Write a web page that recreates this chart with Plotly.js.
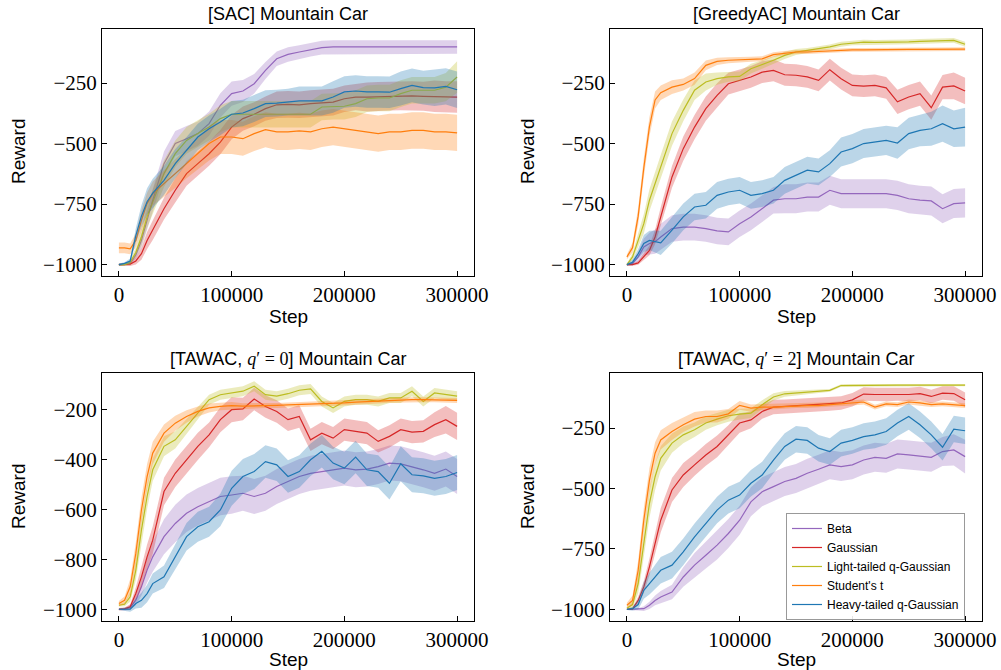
<!DOCTYPE html>
<html>
<head>
<meta charset="utf-8">
<script src="https://cdn.plot.ly/plotly-3.0.1.min.js"></script>
<style>html,body{margin:0;padding:0;background:#fff;}#chart{width:1001px;height:670px;}</style>
</head>
<body>
<div id="chart"></div>
<script>
// ---------- data ----------
const steps = [0,5000,10000,15000,20000,25000,30000,40000,50000,60000,70000,80000,90000,100000,110000,120000,130000,140000,150000,160000,170000,180000,190000,200000,210000,220000,230000,240000,250000,260000,270000,280000,290000,300000];
const seriesNames = ["Beta","Gaussian","Light-tailed q-Gaussian","Student's t","Heavy-tailed q-Gaussian"];
const panelTitles = ["[SAC] Mountain Car","[GreedyAC] Mountain Car",
  "[TAWAC, <span style='font-family:Liberation Serif'><i>q</i>′ = 0</span>] Mountain Car",
  "[TAWAC, <span style='font-family:Liberation Serif'><i>q</i>′ = 2</span>] Mountain Car"];
const xTicks = [0,100000,200000,300000];
const yTicksA = [-1000,-750,-500,-250];
const yTicksB = [-1000,-800,-600,-400,-200];

// SAC
const sacBeta  = [-1000,-1000,-995,-960,-900,-817,-734, -583,-500,-480,-459,-418,-342,-294, -283,-253,-198,-150,-132,-122,-113, -104,-101,-101,-101,-101,-101,-101, -101,-101,-101,-101,-101,-101];
const sacBetaSd= [5,5,8,15,30,40,45, 50,52,52,50,50,50,50, 45,40,35,30,30,28,28, 28,28,28,28,28,28,28, 28,28,28,28,28,28];
const sacGauss = [-1000,-1000,-998,-985,-955,-900,-858, -769,-693,-624,-583,-542,-494,-432, -397,-379,-356,-340,-338,-340,-335, -333,-329,-315,-308,-308,-306,-304, -303,-303,-305,-305,-308,-308];
const sacGaussSd=[5,5,8,15,25,35,40, 45,50,50,50,50,50,50, 50,50,50,55,55,55,55, 55,55,55,55,60,60,60, 60,60,60,65,65,65];
const sacLight = [-1000,-1000,-990,-950,-886,-803,-741, -624,-542,-487,-459,-432,-397,-379, -379,-379,-379,-379,-379,-379,-379, -349,-346,-346,-335,-315,-312,-312, -294,-280,-280,-280,-267,-225];
const sacLightSd=[5,5,10,20,35,45,50, 55,55,55,55,55,55,55, 55,55,55,55,55,55,55, 55,55,55,55,55,55,55, 55,55,55,55,58,65];
const sacStud  = [-931,-931,-935,-900,-817,-748,-707, -666,-624,-583,-542,-500,-473,-473, -480,-459,-443,-452,-452,-448,-452, -439,-432,-439,-448,-452,-459,-452, -452,-446,-446,-452,-452,-456];
const sacStudSd= [22,22,22,28,40,45,50, 55,60,60,65,70,70,70, 70,72,72,75,75,75,75, 75,75,75,75,75,75,75, 75,75,75,75,75,75];
const sacHeavy = [-1000,-995,-985,-880,-800,-740,-705, -652,-583,-528,-473,-439,-411,-379, -374,-356,-335,-333,-329,-324,-324, -324,-308,-287,-283,-287,-287,-288, -273,-260,-269,-270,-264,-278];
const sacHeavySd=[5,5,10,30,45,55,60, 60,60,55,55,55,55,55, 55,55,55,55,55,60,60, 60,65,65,65,65,65,65, 70,70,70,75,75,75];

// GreedyAC
const gBeta  = [-1000,-995,-968,-927,-913,-905,-886, -851,-845,-845,-851,-861,-865,-831, -803,-769,-734,-728,-728,-721,-721, -693,-707,-707,-707,-707,-707,-714, -728,-734,-737,-769,-748,-745];
const gBetaSd= [5,8,20,35,45,50,55, 55,55,55,55,55,55,55, 55,55,55,60,60,60,60, 60,60,60,60,60,60,60, 60,60,60,60,60,60];
const gGauss = [-1000,-1000,-993,-968,-941,-886,-803, -638,-521,-432,-356,-301,-253,-239, -225,-205,-198,-216,-218,-225,-239, -195,-232,-260,-263,-260,-270,-328, -308,-294,-352,-267,-262,-283];
const gGaussSd=[5,5,8,15,20,30,40, 45,50,50,50,50,45,45, 45,45,45,45,45,45,45, 45,45,45,45,45,45,50, 50,50,50,50,55,55];
const gLight = [-1000,-968,-900,-831,-734,-666,-597, -459,-363,-280,-246,-232,-225,-223, -191,-174,-156,-136,-122,-115,-108, -101,-90,-84,-81,-82,-82,-81, -80,-78,-77,-76,-74,-90];
const gLightSd=[5,15,30,40,45,50,50, 50,45,40,35,25,20,20, 20,18,15,15,12,10,10, 10,10,10,10,10,10,10, 10,10,10,10,10,10];
const gStud  = [-968,-930,-800,-600,-430,-320,-290, -267,-256,-232,-177,-161,-156,-154, -152,-150,-133,-126,-122,-122,-119, -118,-115,-113,-113,-112,-112,-112, -111,-111,-111,-110,-110,-110];
const gStudSd= [10,20,35,40,40,35,30, 28,25,25,20,15,12,10, 10,10,10,8,8,8,8, 8,8,8,8,8,8,8, 8,8,8,8,8,8];
const gHeavy = [-1000,-990,-955,-913,-900,-905,-910, -858,-803,-762,-755,-714,-700,-693, -714,-707,-693,-652,-631,-610,-617, -583,-535,-521,-500,-494,-487,-498, -459,-446,-439,-418,-439,-432];
const gHeavySd=[5,10,20,35,40,45,50, 55,55,55,55,55,55,55, 55,55,55,55,55,55,55, 55,60,60,60,60,60,65, 65,65,70,75,75,80];

// TAWAC q'=0
const t0Beta  = [-1000,-1000,-993,-964,-910,-843,-790, -709,-656,-615,-589,-569,-548,-542, -535,-548,-535,-508,-488,-468,-455, -448,-441,-434,-441,-438,-428,-414, -417,-428,-441,-455,-438,-468];
const t0BetaSd= [3,5,10,20,35,50,60, 70,75,75,75,75,75,75, 70,70,70,70,70,70,70, 70,70,70,70,70,70,70, 70,70,70,70,70,70];
const t0Gauss = [-1000,-998,-990,-937,-870,-790,-723, -528,-455,-401,-347,-301,-240,-200, -197,-157,-187,-207,-240,-227,-321, -294,-314,-280,-287,-294,-327,-307, -280,-290,-287,-260,-240,-267];
const t0GaussSd=[5,5,10,25,40,50,55, 55,55,55,55,50,50,50, 45,45,45,45,45,45,45, 45,45,45,45,45,45,45, 45,45,45,50,55,55];
const t0Light = [-984,-980,-950,-843,-682,-548,-441, -347,-321,-267,-213,-160,-140,-133, -126,-106,-140,-146,-136,-122,-117, -167,-193,-167,-160,-160,-167,-153, -153,-126,-167,-133,-140,-146];
const t0LightSd=[5,8,20,40,50,50,45, 40,35,30,25,20,20,20, 20,20,20,20,20,20,20, 20,20,20,20,20,20,20, 20,20,20,20,20,20];
const t0Stud  = [-977,-964,-910,-776,-602,-468,-374, -294,-254,-227,-207,-193,-187,-184, -186,-184,-183,-183,-181,-180,-178, -176,-175,-173,-170,-168,-165,-162, -160,-160,-160,-160,-160,-163];
const t0StudSd= [10,15,30,45,50,50,45, 35,30,25,20,18,15,15, 12,12,10,10,10,10,10, 10,10,10,10,10,10,10, 10,10,10,10,10,10];
const t0Heavy = [-1000,-1000,-1000,-977,-964,-937,-897, -870,-790,-709,-669,-649,-602,-515, -468,-448,-408,-421,-468,-448,-401, -367,-414,-434,-390,-441,-448,-495, -417,-461,-465,-475,-468,-452];
const t0HeavySd=[3,5,10,20,30,35,40, 45,50,55,60,60,65,70, 70,70,65,65,65,65,65, 65,65,65,65,65,65,65, 70,70,70,70,70,70];

// TAWAC q'=2
const t2Beta  = [-1000,-1000,-1000,-997,-983,-963,-949, -928,-866,-817,-776,-734,-686,-631, -555,-513,-492,-471,-458,-437,-420, -402,-409,-402,-382,-371,-375,-357, -361,-365,-371,-347,-340,-368];
const t2BetaSd= [2,3,5,10,15,20,25, 30,40,50,55,60,60,60, 60,60,60,60,60,60,60, 60,60,60,60,60,60,60, 60,60,60,60,65,70];
const t2Gauss = [-1000,-998,-963,-907,-824,-727,-631, -506,-444,-402,-361,-326,-278,-229, -216,-181,-163,-160,-157,-157,-153, -150,-146,-133,-109,-111,-111,-109, -111,-107,-119,-105,-107,-133];
const t2GaussSd=[3,5,15,25,35,45,50, 50,50,45,45,45,40,40, 35,30,30,28,28,28,28, 28,28,28,28,28,28,28, 28,28,28,28,30,30];
const t2Light = [-995,-980,-893,-727,-561,-451,-375, -312,-278,-257,-229,-213,-199,-192, -188,-153,-121,-108,-105,-102,-98, -94,-74,-73,-72,-72,-72,-72, -72,-72,-72,-72,-72,-72];
const t2LightSd=[5,15,40,55,60,55,50, 40,35,30,28,25,25,22, 20,18,15,12,10,8,8, 6,5,5,5,5,5,5, 5,5,5,5,5,5];
const t2Stud  = [-983,-963,-838,-631,-465,-354,-299, -264,-236,-213,-202,-202,-191,-156, -167,-163,-163,-160,-157,-157,-157, -153,-149,-146,-142,-163,-150,-153, -142,-146,-153,-150,-153,-157];
const t2StudSd= [10,20,40,50,50,45,40, 35,30,30,25,25,20,18, 15,12,12,10,10,10,10, 10,10,10,10,10,10,10, 10,10,10,10,10,10];
const t2Heavy = [-1000,-997,-980,-921,-893,-866,-838, -817,-762,-700,-644,-589,-548,-527, -478,-444,-382,-326,-296,-301,-333, -347,-312,-301,-285,-278,-264,-229, -202,-236,-278,-329,-254,-261];
const t2HeavySd=[3,8,20,35,45,50,55, 55,55,55,55,55,55,55, 55,55,55,55,55,55,55, 55,55,55,55,55,55,55, 55,55,55,55,55,55];

// ---------- build ----------
const colors = ["#9467bd","#d62728","#bcbd22","#ff7f0e","#1f77b4"];
const fills  = ["rgba(148,103,189,0.3)","rgba(214,39,40,0.3)","rgba(188,189,34,0.3)","rgba(255,127,14,0.3)","rgba(31,119,180,0.3)"];
const panels = [
  {means:[sacBeta,sacGauss,sacLight,sacStud,sacHeavy], sds:[sacBetaSd,sacGaussSd,sacLightSd,sacStudSd,sacHeavySd]},
  {means:[gBeta,gGauss,gLight,gStud,gHeavy], sds:[gBetaSd,gGaussSd,gLightSd,gStudSd,gHeavySd]},
  {means:[t0Beta,t0Gauss,t0Light,t0Stud,t0Heavy], sds:[t0BetaSd,t0GaussSd,t0LightSd,t0StudSd,t0HeavySd]},
  {means:[t2Beta,t2Gauss,t2Light,t2Stud,t2Heavy], sds:[t2BetaSd,t2GaussSd,t2LightSd,t2StudSd,t2HeavySd]}
];

const traces = [];
panels.forEach((p, pi) => {
  const xa = pi === 0 ? 'x' : 'x' + (pi + 1);
  const ya = pi === 0 ? 'y' : 'y' + (pi + 1);
  p.means.forEach((m, si) => {
    const sd = p.sds[si];
    traces.push({
      type:'scatter', mode:'lines', x:steps, y:m, xaxis:xa, yaxis:ya,
      name:seriesNames[si], legendgroup:seriesNames[si],
      showlegend: pi === 3,
      line:{color:colors[si], width:1.2}, hoverinfo:'skip'
    });
    const upper = m.map((v,i)=>v+sd[i]);
    const lower = m.map((v,i)=>v-sd[i]);
    traces.push({
      type:'scatter', mode:'lines', x:steps.concat(steps.slice().reverse()),
      y:upper.concat(lower.slice().reverse()), xaxis:xa, yaxis:ya,
      fill:'toself', fillcolor:fills[si], line:{width:0, color:'rgba(0,0,0,0)'},
      showlegend:false, hoverinfo:'skip'
    });
  });
});

const fmt = v => (v < 0 ? '\u2212' + Math.abs(v) : String(v));
const tickFont = {family:'Liberation Serif', size:21, color:'#000'};
function xAxis(domain, anchor){
  return {domain, anchor, range:[-15000,315000], tickmode:'array', tickvals:xTicks, ticktext:xTicks.map(fmt),
    ticks:'inside', ticklen:5, tickwidth:1, tickcolor:'#000', showline:true, linecolor:'#000', linewidth:1,
    mirror:true, showgrid:false, zeroline:false, tickfont:tickFont, fixedrange:true};
}
function yAxis(domain, anchor, range, tv){
  return {domain, anchor, range, tickmode:'array', tickvals:tv, ticktext:tv.map(fmt),
    ticks:'inside', ticklen:5, tickwidth:1, tickcolor:'#000', showline:true, linecolor:'#000', linewidth:1,
    mirror:true, showgrid:false, zeroline:false, tickfont:tickFont, fixedrange:true};
}
const W = 1001, H = 670;
const xL = [102/W, 474/W], xR = [610/W, 982/W];
const yT = [1-276/H, 1-29/H], yB = [1-621/H, 1-373/H];

const sans = 'Liberation Sans';
const ann = [];
const titlePos = [[288,14],[796,14],[288,359],[796,359]];
panelTitles.forEach((t,i)=>{
  ann.push({text:t, xref:'paper', yref:'paper', x:titlePos[i][0]/W, y:1-titlePos[i][1]/H,
    xanchor:'center', yanchor:'middle', showarrow:false, font:{family:sans, size:18, color:'#000'}});
});
[[18,152],[527,152],[18,497],[527,497]].forEach(p=>{
  ann.push({text:'Reward', xref:'paper', yref:'paper', x:p[0]/W, y:1-p[1]/H, textangle:-90,
    xanchor:'center', yanchor:'middle', showarrow:false, font:{family:sans, size:19, color:'#000'}});
});
[[288,316],[796,316],[288,659],[796,659]].forEach(p=>{
  ann.push({text:'Step', xref:'paper', yref:'paper', x:p[0]/W, y:1-p[1]/H,
    xanchor:'center', yanchor:'middle', showarrow:false, font:{family:sans, size:19, color:'#000'}});
});

const layout = {
  width:W, height:H, margin:{l:0,r:0,t:0,b:0}, paper_bgcolor:'#fff', plot_bgcolor:'#fff',
  xaxis:xAxis(xL,'y'), yaxis:yAxis(yT,'x',[-1047,-27],yTicksA),
  xaxis2:xAxis(xR,'y2'), yaxis2:yAxis(yT,'x2',[-1047,-27],yTicksA),
  xaxis3:xAxis(xL,'y3'), yaxis3:yAxis(yB,'x3',[-1047,-53],yTicksB),
  xaxis4:xAxis(xR,'y4'), yaxis4:yAxis(yB,'x4',[-1048,-22],yTicksA),
  annotations:ann,
  showlegend:true,
  legend:{x:786/W, y:1-513/H, xanchor:'left', yanchor:'top', bgcolor:'rgba(255,255,255,0.9)',
    bordercolor:'#999', borderwidth:1, font:{family:sans, size:12, color:'#000'},
    traceorder:'normal', tracegroupgap:0, itemwidth:30}
};
Plotly.newPlot('chart', traces, layout, {staticPlot:true, displayModeBar:false});
</script>
</body>
</html>
